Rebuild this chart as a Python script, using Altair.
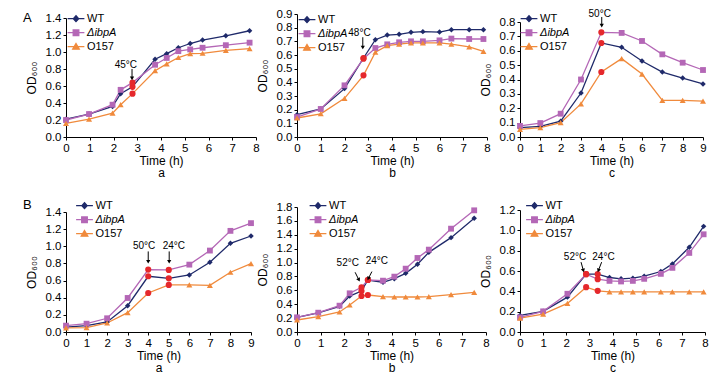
import math
import altair as alt
import pandas as pd

FONT = "Liberation Sans"
SERIES = ["WT", "ΔibpA", "O157"]
COLORS = ["#1f2a6a", "#b467b6", "#f08a3c"]
SHAPES = ["diamond", "square", "triangle-up"]
SIZES = [30, 34, 36]
SHOCK_COLOR = "#e5282c"
LEG_PATHS = [
    "M-1.2,0H1.2M0,-0.42L0.38,0L0,0.42L-0.38,0Z",
    "M-1.2,0H1.2M-0.4,-0.4H0.4V0.4H-0.4Z",
    "M-1.2,0H1.2M0,-0.45L0.47,0.35H-0.47Z",
]

aa_time = [0, 0.97, 1.96, 2.3, 2.8, 3.75, 4.24, 4.73, 5.23, 5.75, 6.73, 7.73]
aa_wt = [0.21, 0.27, 0.36, 0.51, 0.59, 0.915, 0.98, 1.05, 1.10, 1.14, 1.19, 1.25]
aa_ibpa = [0.20, 0.27, 0.38, 0.555, 0.64, 0.85, 0.93, 1.01, 1.03, 1.05, 1.08, 1.11]
aa_o157 = [0.16, 0.21, 0.28, 0.38, 0.51, 0.78, 0.86, 0.935, 0.98, 0.985, 1.02, 1.04]
aa_shock = [2.8]
aa_ann = [("45°C", 2.52, 0.85, 2.78, 0.80, 2.78, 0.69)]

ab_time = [0, 1, 2, 2.8, 3.3, 3.8, 4.3, 4.8, 5.3, 6.0, 6.5, 7.25, 7.85]
ab_wt = [0.163, 0.205, 0.354, 0.578, 0.712, 0.746, 0.751, 0.766, 0.771, 0.768, 0.785, 0.785, 0.785]
ab_ibpa = [0.146, 0.205, 0.378, 0.573, 0.651, 0.678, 0.693, 0.70, 0.70, 0.707, 0.72, 0.717, 0.717]
ab_o157 = [0.139, 0.17, 0.283, 0.451, 0.62, 0.668, 0.68, 0.688, 0.688, 0.688, 0.68, 0.659, 0.627]
ab_shock = [2.8]
ab_ann = [("48°C", 2.63, 0.76, 2.77, 0.73, 2.77, 0.655)]

ac_time = [0, 1, 2, 3, 4, 5, 6, 7, 8, 9]
ac_wt = [0.065, 0.074, 0.11, 0.306, 0.654, 0.624, 0.529, 0.452, 0.41, 0.369]
ac_ibpa = [0.077, 0.097, 0.162, 0.40, 0.728, 0.724, 0.668, 0.575, 0.517, 0.466]
ac_o157 = [0.053, 0.065, 0.10, 0.23, 0.452, 0.545, 0.438, 0.255, 0.255, 0.25]
ac_shock = [4]
ac_ann = [("50°C", 3.92, 0.858, 4.02, 0.835, 4.02, 0.775)]

ba_time = [0, 1, 2, 3, 4, 5, 6, 7, 8, 9]
ba_wt = [0.058, 0.074, 0.117, 0.307, 0.65, 0.626, 0.665, 0.813, 1.035, 1.12]
ba_ibpa = [0.074, 0.097, 0.16, 0.397, 0.728, 0.724, 0.786, 0.95, 1.18, 1.27]
ba_o157 = [0.047, 0.05, 0.105, 0.226, 0.455, 0.549, 0.549, 0.545, 0.697, 0.798]
ba_shock = [4, 5]
ba_ann = [("50°C", 3.8, 1.0, 4.0, 0.94, 4.0, 0.82),
          ("24°C", 5.25, 1.0, 5.02, 0.94, 5.02, 0.82)]

bb_time = [0, 0.9, 1.8, 2.23, 2.73, 3.0, 3.64, 4.12, 4.6, 5.1, 5.58, 6.52, 7.5]
bb_wt = [0.211, 0.274, 0.37, 0.518, 0.59, 0.749, 0.715, 0.768, 0.845, 0.975, 1.147, 1.359, 1.637]
bb_ibpa = [0.211, 0.278, 0.379, 0.557, 0.643, 0.749, 0.739, 0.797, 0.912, 1.066, 1.186, 1.488, 1.752]
bb_o157 = [0.173, 0.221, 0.288, 0.389, 0.518, 0.533, 0.509, 0.504, 0.504, 0.504, 0.509, 0.538, 0.571]
bb_shock = [2.73, 3.0]
bb_ann = [("52°C", 2.15, 1.0, 2.46, 0.86, 2.62, 0.75),
          ("24°C", 3.38, 1.02, 3.17, 0.87, 3.02, 0.77)]

bc_time = [0, 1, 2.05, 2.86, 3.36, 3.87, 4.37, 4.88, 5.37, 6.09, 6.59, 7.32, 7.94]
bc_wt = [0.163, 0.203, 0.343, 0.569, 0.569, 0.536, 0.523, 0.529, 0.549, 0.595, 0.67, 0.833, 1.039]
bc_ibpa = [0.144, 0.203, 0.376, 0.569, 0.52, 0.503, 0.497, 0.503, 0.523, 0.572, 0.631, 0.778, 0.961]
bc_o157 = [0.137, 0.176, 0.281, 0.441, 0.405, 0.395, 0.395, 0.395, 0.395, 0.395, 0.395, 0.395, 0.395]
bc_shock = [2.86, 3.36]
bc_ann = [("52°C", 2.38, 0.736, 2.64, 0.687, 2.74, 0.605),
          ("24°C", 3.61, 0.736, 3.53, 0.687, 3.39, 0.605)]

ROW_A_H = 123
ROW_B_H = 125

panels = [
    dict(time=aa_time, vals=[aa_wt, aa_ibpa, aa_o157], shock=aa_shock, ann=aa_ann,
         xmax=8, ymax=1.4, ystep=0.2, w=190, cw=223, h=119, ch=ROW_A_H, sub="a", leg=(2, -3.3), tag="A"),
    dict(time=ab_time, vals=[ab_wt, ab_ibpa, ab_o157], shock=ab_shock, ann=ab_ann,
         xmax=8, ymax=0.9, ystep=0.1, w=190, cw=223, h=123, ch=ROW_A_H, sub="b", leg=(2, -2.3), tag=None),
    dict(time=ac_time, vals=[ac_wt, ac_ibpa, ac_o157], shock=ac_shock, ann=ac_ann,
         xmax=9, ymax=0.8, ystep=0.1, w=183, cw=183, h=115, ch=ROW_A_H, sub="c", leg=(1, -3.3), tag=None),
    dict(time=ba_time, vals=[ba_wt, ba_ibpa, ba_o157], shock=ba_shock, ann=ba_ann,
         xmax=9, ymax=1.4, ystep=0.2, w=185, cw=231, h=120, ch=ROW_B_H, sub="a", leg=(10.5, -9.3), tag="B"),
    dict(time=bb_time, vals=[bb_wt, bb_ibpa, bb_o157], shock=bb_shock, ann=bb_ann,
         xmax=8, ymax=1.8, ystep=0.2, w=189, cw=221, h=125, ch=ROW_B_H, sub="b", leg=(13, -9.3), tag=None),
    dict(time=bc_time, vals=[bc_wt, bc_ibpa, bc_o157], shock=bc_shock, ann=bc_ann,
         xmax=8, ymax=1.2, ystep=0.2, w=185, cw=185, h=122, ch=ROW_B_H, sub="c", leg=(6.5, -9.3), tag=None),
]


def make_panel(p):
    rows = []
    for s, vals in zip(SERIES, p["vals"]):
        for t, v in zip(p["time"], vals):
            rows.append({"time": t, "value": v, "series": s,
                         "shock": any(abs(t - st) < 1e-9 for st in p["shock"])})
    df = pd.DataFrame(rows)

    sx = p["w"] / p["xmax"]
    sy = p["h"] / p["ymax"]
    arows = []
    for lab, tx, ty, x1, y1, x2, y2 in p["ann"]:
        dxp = (x2 - x1) * sx
        dyp = (y1 - y2) * sy
        ang = (-math.degrees(math.atan2(dxp, dyp))) % 360
        arows.append({"label": lab, "tx": tx, "ty": ty, "x1": x1, "y1": y1,
                      "x2": x2, "y2": y2, "angle": ang})
    ann = pd.DataFrame(arows)

    xscale = alt.Scale(domain=[0, p["xmax"]], range=[0, p["w"]], nice=False, zero=False)
    yscale = alt.Scale(domain=[0, p["ymax"]], range=[p["ch"], p["ch"] - p["h"]], nice=False)
    nt = int(round(p["ymax"] / p["ystep"]))
    yticks = [round(i * p["ystep"], 2) for i in range(nt + 1)]
    xaxis = alt.Axis(values=list(range(p["xmax"] + 1)), format="d", title=["Time (h)", p["sub"]])
    yaxis = alt.Axis(values=yticks, format=".1f", title="OD₆₀₀")
    AX = lambda f: alt.X(f"{f}:Q", scale=xscale, axis=xaxis)
    AY = lambda f: alt.Y(f"{f}:Q", scale=yscale, axis=yaxis)
    X = AX("time")
    Y = AY("value")

    base = alt.Chart(df)
    layers = []
    for s, c in zip(SERIES, COLORS):
        layers.append(base.transform_filter(f"datum.series == '{s}'")
                      .mark_line(strokeWidth=1.3, color=c).encode(X, Y))
    for s, c, sh, sz in zip(SERIES, COLORS, SHAPES, SIZES):
        layers.append(base.transform_filter(f"datum.series == '{s}' && !datum.shock")
                      .mark_point(shape=sh, filled=True, size=sz, color=c, opacity=1).encode(X, Y))
    layers.append(base.transform_filter("datum.shock")
                  .mark_circle(color=SHOCK_COLOR, size=38, opacity=1).encode(X, Y))

    ac = alt.Chart(ann)
    layers.append(ac.mark_rule(color="black", strokeWidth=1).encode(
        x=AX("x1"), y=AY("y1"), x2="x2:Q", y2="y2:Q"))
    layers.append(ac.mark_point(shape="triangle-down", filled=True, color="black", size=18, opacity=1)
                  .encode(x=AX("x2"), y=AY("y2"), angle=alt.Angle("angle:Q", scale=None)))
    layers.append(ac.mark_text(font=FONT, fontSize=10, color="black").encode(
        x=AX("tx"), y=AY("ty"), text="label:N"))

    leg = alt.Legend(orient="none", legendX=p["leg"][0], legendY=p["leg"][1], title=None,
                     labelFont=FONT, labelFontSize=11, labelColor="black", symbolSize=196,
                     symbolStrokeWidth=1.3, rowPadding=-1, labelOffset=3, padding=0,
                     symbolOpacity=1,
                     labelFontStyle=alt.ExprRef(expr="datum.label == 'ΔibpA' ? 'italic' : 'normal'"))
    layers.append(base.transform_filter("false").mark_point(filled=True, opacity=1, strokeWidth=1.3)
                  .encode(x=X, y=Y,
                          fill=alt.Fill("series:N", scale=alt.Scale(domain=SERIES, range=COLORS), legend=leg),
                          stroke=alt.Stroke("series:N", scale=alt.Scale(domain=SERIES, range=COLORS), legend=leg),
                          shape=alt.Shape("series:N", scale=alt.Scale(domain=SERIES, range=LEG_PATHS), legend=leg)))

    props = dict(width=p["cw"], height=p["ch"])
    if p["tag"]:
        props["title"] = alt.TitleParams(p["tag"], anchor="start", frame="group", dx=-43, dy=14,
                                         fontSize=13, font=FONT, fontWeight="normal", offset=0,
                                         color="black")
    return alt.layer(*layers).properties(**props)


RES = dict(stroke="independent", fill="independent",
           shape="independent", x="independent", y="independent")

chart = (
    alt.concat(*[make_panel(p) for p in panels], columns=3, spacing={"row": 70, "column": 0},
               bounds="flush", align="none")
    .resolve_scale(**RES)
    .properties(padding={"left": 15, "top": 0, "right": 0, "bottom": 0})
    .configure_view(stroke=None)
    .configure_axis(domainColor="black", tickColor="black", labelColor="black", titleColor="black",
                    labelFont=FONT, titleFont=FONT, labelFontSize=11.5, titleFontSize=12,
                    titleFontWeight="normal", tickSize=3, grid=False, domainWidth=1, tickWidth=1,
                    labelPadding=2, labelFlush=False, labelOverlap=False)
    .configure_axisX(titlePadding=2, titleLineHeight=12)
    .configure_axisY(titlePadding=7)
)

chart.save("out.html", embed_options={"renderer": "svg", "actions": False})
